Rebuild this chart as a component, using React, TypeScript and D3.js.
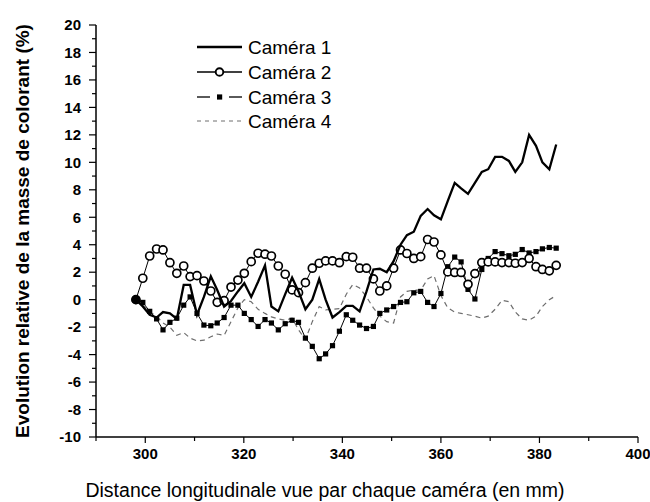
import React from "react";
import * as d3 from "d3";

const distances = [298.1, 299.5, 300.9, 302.3, 303.6, 305.0, 306.4, 307.8, 309.1, 310.5, 311.9, 313.3, 314.6, 316.0, 317.4, 318.8, 320.1, 321.5, 322.9, 324.3, 325.6, 327.0, 328.4, 329.8, 331.1, 332.5, 333.9, 335.3, 336.6, 338.0, 339.4, 340.8, 342.1, 343.5, 344.9, 346.3, 347.6, 349.0, 350.4, 351.8, 353.1, 354.5, 355.9, 357.3, 358.6, 360.0, 361.4, 362.8, 364.1, 365.5, 366.9, 368.3, 369.6, 371.0, 372.4, 373.8, 375.1, 376.5, 377.9, 379.3, 380.6, 382.0, 383.4];

const camera1 = [0, -0.5, -1.1, -1.3, -0.9, -1.0, -1.4, 1.07, 1.07, -1.1, 0.2, 1.7, 0.7, -0.5, -0.1, 0.6, 1.2, 0.2, 1.3, 2.5, -0.5, -0.85, 0.4, 1.6, 0.6, -0.7, 0.0, 1.5, 0.0, -1.3, -0.9, -0.45, -0.45, -0.85, 0.6, 2.2, 2.25, 2.0, 2.8, 4.0, 4.7, 4.95, 6.1, 6.6, 6.15, 5.85, 7.2, 8.5, 8.1, 7.7, 8.5, 9.3, 9.5, 10.4, 10.4, 10.1, 9.3, 10.0, 12.0, 11.2, 10.0, 9.5, 11.3];

const camera2 = [0, 1.56, 3.18, 3.69, 3.62, 2.69, 1.92, 2.45, 1.68, 1.75, 1.36, 0.63, -0.19, -0.07, 0.92, 1.43, 1.92, 2.77, 3.38, 3.31, 3.18, 2.45, 1.85, 0.71, 0.51, 1.24, 2.29, 2.65, 2.82, 2.82, 2.69, 3.13, 3.09, 2.29, 2.29, 1.51, 0.63, 1.0, 2.29, 3.62, 3.36, 3.0, 3.13, 4.38, 4.2, 3.26, 2.02, 1.98, 1.98, 1.12, 1.9, 2.7, 2.75, 2.75, 2.7, 2.7, 2.65, 2.7, 3.0, 2.4, 2.2, 2.1, 2.5];

const camera3 = [0, -0.2, -0.85, -1.4, -2.2, -1.65, -1.35, -0.4, 0.2, -1.0, -1.85, -1.9, -1.7, -1.3, -0.4, -0.4, -1.0, -1.45, -1.95, -1.45, -1.7, -2.2, -1.75, -1.5, -1.65, -2.8, -3.4, -4.3, -3.95, -3.35, -2.3, -1.1, -1.5, -1.85, -2.1, -1.95, -1.0, -0.75, -0.5, -0.2, -0.15, 0.5, 0.6, -0.2, -0.5, 0.45, 2.4, 3.1, 2.75, 0.75, 0.05, 2.2, 3.0, 3.5, 3.35, 3.2, 3.3, 3.65, 3.4, 3.5, 3.7, 3.8, 3.75];

const camera4 = [0, -0.4, -0.9, -1.2, -1.7, -2.0, -2.6, -2.4, -2.8, -3.0, -2.95, -2.7, -2.5, -2.6, -1.6, -0.6, 0.0, -0.15, -0.7, -1.0, -1.25, -1.4, -1.5, -1.35, -2.2, -2.9, -1.6, -0.5, -0.75, -0.7, -0.65, 0.4, 1.1, 0.85, 0.2, -0.6, -1.2, -1.6, -1.7, 0.2, 0.6, 0.7, 0.7, 1.5, 1.75, 0.3, -0.6, -0.9, -1.0, -1.1, -1.2, -1.35, -1.2, -0.7, -0.05, -0.15, -0.9, -1.4, -1.5, -1.2, -0.5, 0.0, 0.3];

const xTickLabels = [300, 320, 340, 360, 380, 400];
const xMinorTicks = [290, 310, 330, 350, 370, 390];
const yTickLabels = [-10, -8, -6, -4, -2, 0, 2, 4, 6, 8, 10, 12, 14, 16, 18, 20];
const yMinorTicks = [-9, -7, -5, -3, -1, 1, 3, 5, 7, 9, 11, 13, 15, 17, 19];
const legendLabels = ["Caméra 1", "Caméra 2", "Caméra 3", "Caméra 4"];

const xTitle = "Distance longitudinale vue par chaque caméra (en mm)";
const yTitle = "Evolution relative de la masse de colorant (%)";

export default function App() {
  const W = 650, H = 502;
  const left = 96, right = 638, top = 25, bottom = 437;
  const x = d3.scaleLinear().domain([290, 400]).range([left, right]);
  const y = d3.scaleLinear().domain([-10, 20]).range([bottom, top]);
  const line = (vals: number[]) =>
    d3.line<number>().x((_, i) => x(distances[i])).y((v) => y(v))(vals) || "";
  const font = "Arial, 'Liberation Sans', Helvetica, sans-serif";
  const legY = [47, 72, 97, 121];

  return (
    <svg width={W} height={H} style={{ position: "absolute", left: 0, top: 0, background: "#fff" }} fontFamily={font}>
      {/* series */}
      <path d={line(camera4)} fill="none" stroke="#6e6e6e" strokeWidth={1.2} strokeDasharray="5,4" />
      <path d={line(camera3)} fill="none" stroke="#000" strokeWidth={1} />
      {camera3.map((v, i) => (
        <rect key={"s" + i} x={x(distances[i]) - 2.6} y={y(v) - 2.6} width={5.2} height={5.2} fill="#000" />
      ))}
      <path d={line(camera2)} fill="none" stroke="#000" strokeWidth={1} />
      {camera2.map((v, i) => (
        <circle key={"c" + i} cx={x(distances[i])} cy={y(v)} r={4} fill="#fff" stroke="#000" strokeWidth={1.7} />
      ))}
      <path d={line(camera1)} fill="none" stroke="#000" strokeWidth={2.3} strokeLinejoin="miter" />
      <circle cx={x(distances[0])} cy={y(camera1[0])} r={4.5} fill="#000" />

      {/* axes */}
      <line x1={left} x2={left} y1={top} y2={bottom} stroke="#000" strokeWidth={1.5} />
      <line x1={left} x2={right} y1={bottom} y2={bottom} stroke="#000" strokeWidth={1.5} />
      {yTickLabels.map((t) => (
        <g key={"yt" + t}>
          <line x1={left - 7} x2={left} y1={y(t)} y2={y(t)} stroke="#000" strokeWidth={1.2} />
          <text x={left - 15} y={y(t)} dy="0.35em" textAnchor="end" fontSize={15} fontWeight="bold">{t}</text>
        </g>
      ))}
      {yMinorTicks.map((t) => (
        <line key={"ym" + t} x1={left - 4} x2={left} y1={y(t)} y2={y(t)} stroke="#000" strokeWidth={1.2} />
      ))}
      {xTickLabels.map((t) => (
        <g key={"xt" + t}>
          <line x1={x(t)} x2={x(t)} y1={bottom} y2={bottom + 6} stroke="#000" strokeWidth={1.2} />
          <text x={x(t)} y={bottom + 22} textAnchor="middle" fontSize={15} fontWeight="bold">{t}</text>
        </g>
      ))}
      {xMinorTicks.map((t) => (
        <line key={"xm" + t} x1={x(t)} x2={x(t)} y1={bottom} y2={bottom + 4} stroke="#000" strokeWidth={1.2} />
      ))}

      {/* titles */}
      <text x={325} y={497} textAnchor="middle" fontSize={19.5}>{xTitle}</text>
      <text transform={`translate(29,${(top + bottom) / 2}) rotate(-90)`} textAnchor="middle" fontSize={19} fontWeight="bold">{yTitle}</text>

      {/* legend */}
      <g>
        <line x1={197} x2={242} y1={legY[0]} y2={legY[0]} stroke="#000" strokeWidth={2.3} />
        <line x1={197} x2={242} y1={legY[1]} y2={legY[1]} stroke="#000" strokeWidth={1.3} />
        <circle cx={219.5} cy={legY[1]} r={3.8} fill="#fff" stroke="#000" strokeWidth={1.9} />
        <line x1={197} x2={210} y1={legY[2]} y2={legY[2]} stroke="#000" strokeWidth={1.3} />
        <line x1={229} x2={242} y1={legY[2]} y2={legY[2]} stroke="#000" strokeWidth={1.3} />
        <rect x={217} y={legY[2] - 2.6} width={5.2} height={5.2} fill="#000" />
        <line x1={197} x2={242} y1={legY[3]} y2={legY[3]} stroke="#6e6e6e" strokeWidth={1} strokeDasharray="4,4" />
        {legendLabels.map((l, i) => (
          <text key={l} x={248} y={legY[i]} dy="0.36em" fontSize={19}>{l}</text>
        ))}
      </g>
    </svg>
  );
}
